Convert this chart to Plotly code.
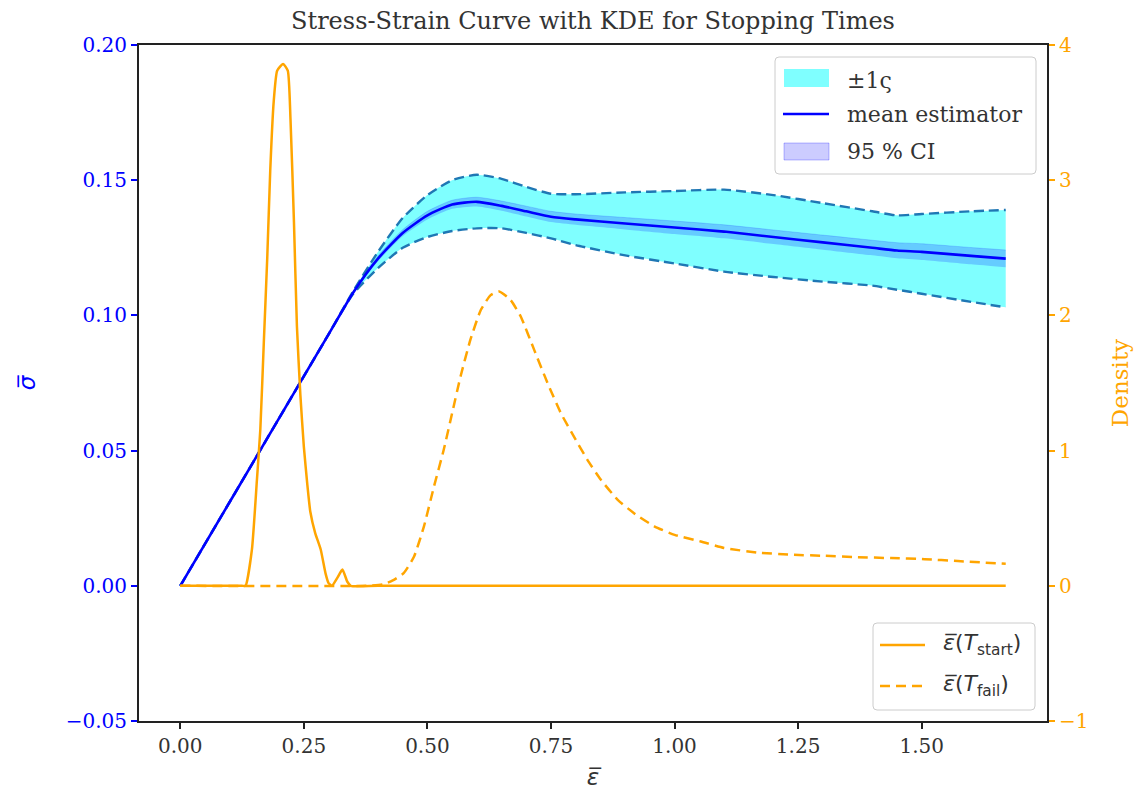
import plotly.graph_objects as go

# ---------------- data ----------------
strain = [0.00, 0.10, 0.20, 0.30, 0.35, 0.40, 0.45, 0.50, 0.55, 0.60, 0.65, 0.70,
          0.75, 0.80, 0.90, 1.00, 1.10, 1.20, 1.30, 1.40, 1.45, 1.50, 1.60, 1.67]
stress_mean = [0.0, 0.031, 0.062, 0.093, 0.1085, 0.121, 0.1305, 0.137, 0.141, 0.142,
               0.1405, 0.1385, 0.1365, 0.1355, 0.134, 0.1325, 0.131, 0.129, 0.127,
               0.125, 0.124, 0.1235, 0.122, 0.121]
stress_upper = [0.0, 0.031, 0.062, 0.093, 0.109, 0.1235, 0.136, 0.1445, 0.150, 0.152,
                0.1505, 0.1475, 0.145, 0.1448, 0.1455, 0.146, 0.1465, 0.1445, 0.1415,
                0.1385, 0.137, 0.1375, 0.1385, 0.139]
stress_lower = [0.0, 0.031, 0.062, 0.093, 0.108, 0.1175, 0.125, 0.129, 0.1312, 0.1322,
                0.1322, 0.1305, 0.1285, 0.126, 0.1222, 0.1192, 0.1162, 0.1142, 0.1125,
                0.111, 0.1095, 0.108, 0.105, 0.103]
ci_half = [0.0, 0.0, 0.0, 0.0, 0.0005, 0.001, 0.0012, 0.0015, 0.0016, 0.0017, 0.0018,
           0.0019, 0.002, 0.002, 0.0022, 0.0024, 0.0025, 0.0026, 0.0027, 0.0028, 0.0029,
           0.003, 0.0031, 0.0032]

eps_start = [0.00, 0.10, 0.125, 0.132, 0.145, 0.155, 0.162, 0.169, 0.176, 0.182, 0.189,
             0.196, 0.208, 0.2175, 0.223, 0.230, 0.236, 0.243, 0.250, 0.257, 0.263,
             0.273, 0.284, 0.294, 0.300, 0.307, 0.318, 0.328, 0.338, 0.345, 0.40, 1.67]
dens_start = [0, 0, 0, 0.0, 0.27, 0.78, 1.16, 1.80, 2.43, 3.07, 3.58, 3.81, 3.86, 3.81,
              3.45, 2.69, 1.92, 1.41, 1.03, 0.75, 0.55, 0.39, 0.27, 0.09, 0.02, 0.0,
              0.06, 0.12, 0.03, 0.0, 0, 0]

eps_fail = [0.00, 0.38, 0.41, 0.43, 0.452, 0.473, 0.493, 0.513, 0.533, 0.550, 0.567,
            0.587, 0.608, 0.628, 0.645, 0.668, 0.689, 0.716, 0.743, 0.770, 0.797, 0.824,
            0.851, 0.885, 0.918, 0.959, 1.00, 1.053, 1.10, 1.168, 1.236, 1.303, 1.371,
            1.438, 1.506, 1.573, 1.67]
dens_fail = [0, 0, 0.01, 0.04, 0.094, 0.217, 0.44, 0.73, 1.006, 1.277, 1.548, 1.82,
             2.04, 2.15, 2.177, 2.115, 1.99, 1.745, 1.50, 1.277, 1.10, 0.93, 0.784,
             0.636, 0.537, 0.44, 0.377, 0.328, 0.28, 0.246, 0.23, 0.222, 0.212, 0.205,
             0.197, 0.183, 0.163]

x_ticks = [0.00, 0.25, 0.50, 0.75, 1.00, 1.25, 1.50]
y_ticks = [-0.05, 0.00, 0.05, 0.10, 0.15, 0.20]
y2_ticks = [-1, 0, 1, 2, 3, 4]

legend_main = ["±1ς", "mean estimator", "95 % CI"]
legend_kde = ["<i>ε̅</i>(<i>T</i><sub>start</sub>)", "<i>ε̅</i>(<i>T</i><sub>fail</sub>)"]

# ---------------- styling ----------------
SERIF = "DejaVu Serif, serif"
SANS = "DejaVu Sans, sans-serif"
BLUE = "#0000FF"
ORANGE = "#FFA500"
DASHBLUE = "#1f77b4"
CYAN_FILL = "rgba(0,255,255,0.5)"
CI_FILL = "rgba(0,0,255,0.2)"
TXT = "#333333"
TICK_FS = 20
LEG_FS = 22

W, H = 1144, 798
ML, MR, MT, MB = 139, 97, 45, 77
PW, PH = W - ML - MR, H - MT - MB


def fx(px):
    return (px - ML) / PW


def fy(py):
    return (H - MB - py) / PH


ci_low = [m - h for m, h in zip(stress_mean, ci_half)]
ci_up = [m + h for m, h in zip(stress_mean, ci_half)]

SPL = dict(shape="spline", smoothing=0.6)
fig = go.Figure()

# +-1 sigma band
fig.add_trace(go.Scatter(x=strain, y=stress_lower, mode="lines",
                         line=dict(width=0, **SPL), showlegend=False, hoverinfo="skip"))
fig.add_trace(go.Scatter(x=strain, y=stress_upper, mode="lines", fill="tonexty",
                         fillcolor=CYAN_FILL, line=dict(width=0, **SPL),
                         showlegend=False, name=legend_main[0]))
# dashed bounds
for yy in (stress_upper, stress_lower):
    fig.add_trace(go.Scatter(x=strain, y=yy, mode="lines",
                             line=dict(color=DASHBLUE, width=2.4, dash="10px,5px", **SPL),
                             showlegend=False))
# CI band
fig.add_trace(go.Scatter(x=strain, y=ci_low, mode="lines",
                         line=dict(width=0, **SPL), showlegend=False, hoverinfo="skip"))
fig.add_trace(go.Scatter(x=strain, y=ci_up, mode="lines", fill="tonexty",
                         fillcolor=CI_FILL,
                         line=dict(width=0.6, color="rgba(0,0,255,0.25)", **SPL),
                         showlegend=False, name=legend_main[2]))
# mean
fig.add_trace(go.Scatter(x=strain, y=stress_mean, mode="lines",
                         line=dict(color=BLUE, width=2.6, **SPL),
                         showlegend=False, name=legend_main[1]))

# KDEs (secondary axis)
fig.add_trace(go.Scatter(x=eps_start, y=dens_start, mode="lines", yaxis="y2",
                         line=dict(color=ORANGE, width=2.5, shape="spline", smoothing=0.5),
                         showlegend=False, name=legend_kde[0]))
fig.add_trace(go.Scatter(x=eps_fail, y=dens_fail, mode="lines", yaxis="y2",
                         line=dict(color=ORANGE, width=2.5, dash="10px,6px",
                                   shape="spline", smoothing=0.5),
                         showlegend=False, name=legend_kde[1]))


# ---------------- manual legends ----------------
def rounded_box(x0, y0, x1, y1, r=4):
    X0, X1 = fx(x0), fx(x1)
    Y0, Y1 = fy(y1), fy(y0)  # bottom, top in paper coords
    rx, ry = r / PW, r / PH
    path = (f"M{X0+rx},{Y0} L{X1-rx},{Y0} Q{X1},{Y0} {X1},{Y0+ry} "
            f"L{X1},{Y1-ry} Q{X1},{Y1} {X1-rx},{Y1} L{X0+rx},{Y1} "
            f"Q{X0},{Y1} {X0},{Y1-ry} L{X0},{Y0+ry} Q{X0},{Y0} {X0+rx},{Y0} Z")
    return dict(type="path", xref="paper", yref="paper", path=path,
                fillcolor="rgba(255,255,255,0.8)", line=dict(color="#cccccc", width=1),
                layer="above")


def rect(x0, y0, x1, y1, fill, line_color, lw=0):
    return dict(type="rect", xref="paper", yref="paper", x0=fx(x0), x1=fx(x1),
                y0=fy(y1), y1=fy(y0), fillcolor=fill,
                line=dict(color=line_color, width=lw), layer="above")


def hline(x0, x1, y, color, width, dash="solid"):
    return dict(type="line", xref="paper", yref="paper", x0=fx(x0), x1=fx(x1),
                y0=fy(y), y1=fy(y), line=dict(color=color, width=width, dash=dash),
                layer="above")


shapes = [
    rounded_box(775, 57, 1036, 174),
    rect(784, 69, 829, 87, CYAN_FILL, CYAN_FILL, 0),
    hline(783, 829, 114, BLUE, 2.6),
    rect(784, 143, 829, 160, CI_FILL, "rgba(0,0,255,0.25)", 1),
    rounded_box(873, 623, 1035, 710),
    hline(880, 925, 645, ORANGE, 2.5),
    hline(880, 925, 686, ORANGE, 2.5, "10px,6px"),
]

annotations = []
for txt, py in zip(legend_main, [80, 115, 151]):
    annotations.append(dict(text=txt, xref="paper", yref="paper", x=fx(845), y=fy(py),
                            xanchor="left", yanchor="middle", showarrow=False,
                            font=dict(family=SERIF, size=LEG_FS, color=TXT)))
for txt, py in zip(legend_kde, [644, 685]):
    annotations.append(dict(text=txt, xref="paper", yref="paper", x=fx(941), y=fy(py),
                            xanchor="left", yanchor="middle", showarrow=False,
                            font=dict(family=SANS, size=LEG_FS, color=TXT)))

fig.update_layout(
    width=W, height=H,
    margin=dict(l=ML, r=MR, t=MT, b=MB),
    paper_bgcolor="white", plot_bgcolor="white",
    showlegend=False,
    font=dict(family=SERIF, size=TICK_FS, color=TXT),
    title=dict(text="Stress-Strain Curve with KDE for Stopping Times",
               x=0.5, xref="paper", xanchor="center",
               y=1 - 21 / H, yref="container", yanchor="middle",
               font=dict(family=SERIF, size=24, color=TXT)),
    xaxis=dict(range=[-0.0835, 1.7535], tickvals=x_ticks,
               ticktext=[f"{v:.2f}" for v in x_ticks],
               showgrid=False, zeroline=False,
               showline=True, linecolor="#222222", linewidth=2, mirror=True,
               ticks="outside", ticklen=6, tickwidth=1.5, tickcolor="#222222",
               tickfont=dict(family=SERIF, size=TICK_FS, color=TXT),
               title=dict(text="<i>ε̅</i>", standoff=12,
                          font=dict(family=SANS, size=23, color=TXT))),
    yaxis=dict(range=[-0.05, 0.2], tickvals=y_ticks,
               ticktext=["−0.05", "0.00", "0.05", "0.10", "0.15", "0.20"],
               showgrid=False, zeroline=False,
               showline=True, linecolor="#222222", linewidth=2,
               ticks="outside", ticklen=6, tickwidth=1.5, tickcolor=BLUE,
               tickfont=dict(family=SERIF, size=TICK_FS, color=BLUE),
               title=dict(text="<i>σ̅</i>", standoff=24,
                          font=dict(family=SANS, size=23, color=BLUE))),
    yaxis2=dict(range=[-1, 4], tickvals=y2_ticks,
                ticktext=["−1", "0", "1", "2", "3", "4"],
                overlaying="y", side="right", anchor="x",
                showgrid=False, zeroline=False,
                showline=True, linecolor="#222222", linewidth=2,
                ticks="outside", ticklen=6, tickwidth=1.5, tickcolor=ORANGE,
                tickfont=dict(family=SERIF, size=TICK_FS, color=ORANGE),
                title=dict(text="Density", standoff=24,
                           font=dict(family=SERIF, size=23, color=ORANGE))),
    shapes=shapes,
    annotations=annotations,
)

fig.write_html("out.html")
